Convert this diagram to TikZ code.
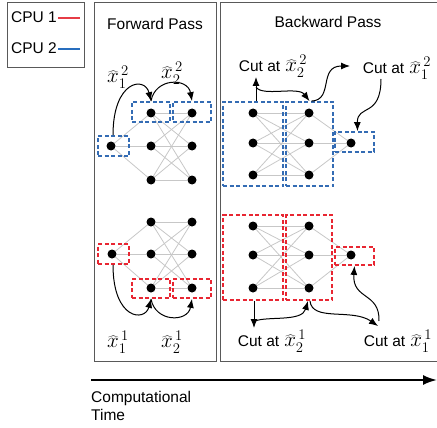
\documentclass[tikz,border=0pt]{standalone}
\usepackage{fontspec}
\usepackage{fix-cm}
\setmainfont{Liberation Sans}
\usetikzlibrary{arrows.meta}
\definecolor{cpublue}{RGB}{52,108,180}
\definecolor{cpured}{RGB}{232,38,50}
\definecolor{legred}{RGB}{230,60,70}
\definecolor{legblue}{RGB}{40,110,190}
\pgfdeclarelayer{bg}
\pgfsetlayers{bg,main}
\newcommand{\hx}[2]{{\fontsize{21}{24}\selectfont$\widehat{x}_{#1}^{\,#2}$}}
\tikzset{
  dot/.style={circle,fill=black,inner sep=0pt,minimum size=9pt},
  nnedge/.style={draw=black!22,line width=0.8pt},
  dbox/.style={rectangle,inner sep=0pt,line width=1.8pt,dash pattern=on 4pt off 2.5pt},
  bbox/.style={dbox,draw=cpublue},
  rbox/.style={dbox,draw=cpured},
  frame/.style={draw=black!65,line width=1pt},
  arr/.style={-{Latex[length=9pt,width=7pt]},line width=1pt},
  txt/.style={font=\fontsize{15.5}{18}\selectfont,inner sep=0pt},
  mlab/.style={inner sep=0pt}
}
\begin{document}
\begin{tikzpicture}[x=1pt,y=-1pt]
\useasboundingbox (0,0) rectangle (437,428);

% legend
\node[frame,rectangle,minimum width=77pt,minimum height=65pt,inner sep=0pt] (legend) at (45.5,35.5) {};
\node[txt,anchor=west] (cpu1) at (11,17) {CPU 1};
\node[txt,anchor=west] (cpu2) at (11,48) {CPU 2};
\coordinate (r1a) at (58,18); \coordinate (r1b) at (80,18);
\coordinate (b1a) at (58,49); \coordinate (b1b) at (80,49);
\draw[legred,line width=1.2pt] (r1a) -- (r1b);
\draw[legblue,line width=1.2pt] (b1a) -- (b1b);

% panels
\node[frame,rectangle,minimum width=122pt,minimum height=358pt,inner sep=0pt] (fwd) at (155,182) {};
\node[frame,rectangle,minimum width=217pt,minimum height=358pt,inner sep=0pt] (bwd) at (328.5,182) {};
\node[txt] (fwdt) at (155,24) {Forward Pass};
\node[txt] (bwdt) at (328,22) {Backward Pass};

% ---------- forward, CPU 2 ----------
\node[dot] (fti) at (111,146) {};
\foreach \i/\y in {1/113,2/146,3/180}{
  \node[dot] (fth\i) at (151,\y) {};
  \node[dot] (fto\i) at (192,\y) {};
}
% ---------- forward, CPU 1 ----------
\node[dot] (fbi) at (112,254) {};
\foreach \i/\y in {1/222,2/254,3/288}{
  \node[dot] (fbh\i) at (151,\y) {};
  \node[dot] (fbo\i) at (192,\y) {};
}
% ---------- backward, CPU 2 ----------
\foreach \i/\y in {1/113,2/143,3/175}{
  \node[dot] (btl\i) at (253,\y) {};
  \node[dot] (btm\i) at (309,\y) {};
}
\node[dot] (btr) at (351,143) {};
% ---------- backward, CPU 1 ----------
\foreach \i/\y in {1/226,2/255,3/288}{
  \node[dot] (bbl\i) at (253,\y) {};
  \node[dot] (bbm\i) at (309,\y) {};
}
\node[dot] (bbr) at (351,255) {};

\begin{pgfonlayer}{bg}
\foreach \i in {1,2,3}{
  \draw[nnedge] (fti) -- (fth\i);
  \draw[nnedge] (fbi) -- (fbh\i);
  \draw[nnedge] (btm\i) -- (btr);
  \draw[nnedge] (bbm\i) -- (bbr);
  \foreach \j in {1,2,3}{
    \draw[nnedge] (fth\i) -- (fto\j);
    \draw[nnedge] (fbh\i) -- (fbo\j);
    \draw[nnedge] (btl\i) -- (btm\j);
    \draw[nnedge] (bbl\i) -- (bbm\j);
  }
}
\end{pgfonlayer}

% dashed boxes
\node[bbox,minimum width=31pt,minimum height=20pt] (ftib) at (113.5,146) {};
\node[bbox,minimum width=38pt,minimum height=20pt] (fthb) at (151,112) {};
\node[bbox,minimum width=38pt,minimum height=20pt] (ftob) at (192,112) {};
\node[rbox,minimum width=31pt,minimum height=20pt] (fbib) at (113.5,254) {};
\node[rbox,minimum width=38pt,minimum height=19pt] (fbhb) at (151,288.5) {};
\node[rbox,minimum width=38pt,minimum height=19pt] (fbob) at (192,288.5) {};
\node[bbox,minimum width=60pt,minimum height=84pt] (btlb) at (253,144) {};
\node[bbox,minimum width=47pt,minimum height=84pt] (btmb) at (309.5,144) {};
\node[bbox,minimum width=39pt,minimum height=20pt] (btrb) at (354.5,142) {};
\node[rbox,minimum width=60pt,minimum height=85pt] (bblb) at (253,257.5) {};
\node[rbox,minimum width=46pt,minimum height=85pt] (bbmb) at (309,257.5) {};
\node[rbox,minimum width=39pt,minimum height=18pt] (bbrb) at (354.5,256) {};

% forward labels and arrows
\node[mlab] (lf12) at (118,77) {\hx{1}{2}};
\node[mlab] (lf22) at (172,73) {\hx{2}{2}};
\node[mlab] (lf11) at (118,342) {\hx{1}{1}};
\node[mlab] (lf21) at (172,342) {\hx{2}{1}};
\draw[arr] ([xshift=-0.5pt]ftib.north) .. controls (113,80) and (145,76) .. (fthb.north);
\draw[arr] (fthb.north) to[out=80,in=100,looseness=1.5] (ftob.north);
\draw[arr] ([xshift=-0.5pt]fbib.south) .. controls (113,320) and (145,322) .. (fbhb.south);
\draw[arr] (fbhb.south) to[out=-80,in=-100,looseness=1.5] (fbob.south);

% backward labels
\node[txt] (lb22) at (273,66) {Cut at\hspace{5pt}\hx{2}{2}};
\node[txt] (lb12) at (397,68) {Cut at\hspace{5pt}\hx{1}{2}};
\node[txt] (lb21) at (272,341) {Cut at\hspace{5pt}\hx{2}{1}};
\node[txt] (lb11) at (398,341) {Cut at\hspace{5pt}\hx{1}{1}};

% backward arrows, CPU 2
\coordinate (t22) at (256,77);
\coordinate (t22s) at (256,87);
\coordinate (t12a) at (350,66);
\coordinate (t12b) at (381,79);
\draw[arr] ([xshift=3pt]btlb.north) -- (t22);
\draw[arr] (t22s) .. controls (262,97) and (298,86) .. (btmb.north);
\draw[arr] ([xshift=2pt]btmb.north) .. controls (334,100) and (318,66) .. (t12a);
\draw[arr] (t12b) .. controls (381,118) and (357,104) .. ([xshift=3pt]btrb.north);

% backward arrows, CPU 1
\coordinate (t21) at (254,328);
\coordinate (t21s) at (255,321);
\coordinate (t11a) at (378,326);
\coordinate (t11b) at (379,321);
\draw[arr] ([xshift=1pt]bblb.south) -- (t21);
\draw[arr] (t21s) .. controls (268,316) and (302,322) .. ([xshift=-1pt]bbmb.south);
\draw[arr] ([xshift=1pt]bbmb.south) .. controls (312,322) and (352,308) .. (t11a);
\draw[arr] (t11b) .. controls (380,292) and (352,300) .. (bbrb.south);

% time axis
\coordinate (ta) at (91,380);
\coordinate (tb) at (437,380);
\draw[line width=2pt,-{Latex[length=14pt,width=10pt]}] (ta) -- (tb);
\node[txt,anchor=north west,align=left] (ctime) at (91,391) {Computational\\Time};
\end{tikzpicture}
\end{document}
